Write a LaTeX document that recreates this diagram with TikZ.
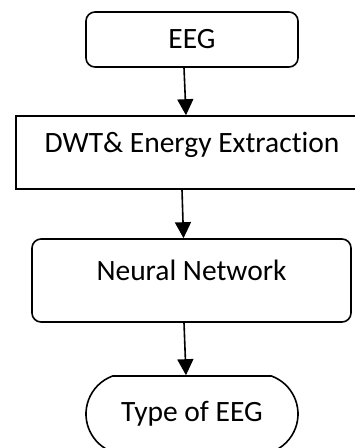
\documentclass[tikz,border=0pt]{standalone}
\usepackage{fontspec}
\setmainfont{Carlito}[Ligatures=NoCommon]
\usetikzlibrary{shapes.misc,arrows.meta}

\begin{document}
\begin{tikzpicture}[yscale=-1,x=1pt,y=1pt,>={Triangle[width=16pt,length=16pt]}]
	\tikzstyle{boxes} = [draw, line width=1.6pt, inner sep=0pt, font=\fontsize{29.5}{36}\selectfont]
	\tikzstyle{term} = [boxes, rounded corners=9pt, minimum width=212pt, minimum height=55pt]
	\tikzstyle{proc} = [boxes, minimum width=352pt, minimum height=73pt, text height=24pt, text depth=24pt]
	\tikzstyle{net} = [boxes, rounded corners=9pt, minimum width=319pt, minimum height=83pt, text height=24pt, text depth=24pt]
	\tikzstyle{outp} = [boxes, rounded rectangle, rounded rectangle arc length=140, minimum width=212pt, minimum height=76pt]
	\tikzstyle{flow} = [->, line width=1.6pt]
	
	\clip (0,0) rectangle (355,448);
	\node[term] (EEG) at (192,39.5) {EEG};
	\node[proc] (DWT) at (192,152.5) {DWT\& Energy Extraction};
	\node[net] (NN) at (191.5,280.5) {Neural Network};
	\node[outp] (Type) at (192,414) {Type of EEG};
	\draw[flow] ([xshift=-8pt]EEG.south) -- ([xshift=-6pt]DWT.north);
	\draw[flow] ([xshift=-10pt]DWT.south) -- ([xshift=-8pt]NN.north);
	\draw[flow] ([xshift=-7.5pt]NN.south) -- ([xshift=-6pt]Type.north);
\end{tikzpicture}
\end{document}
